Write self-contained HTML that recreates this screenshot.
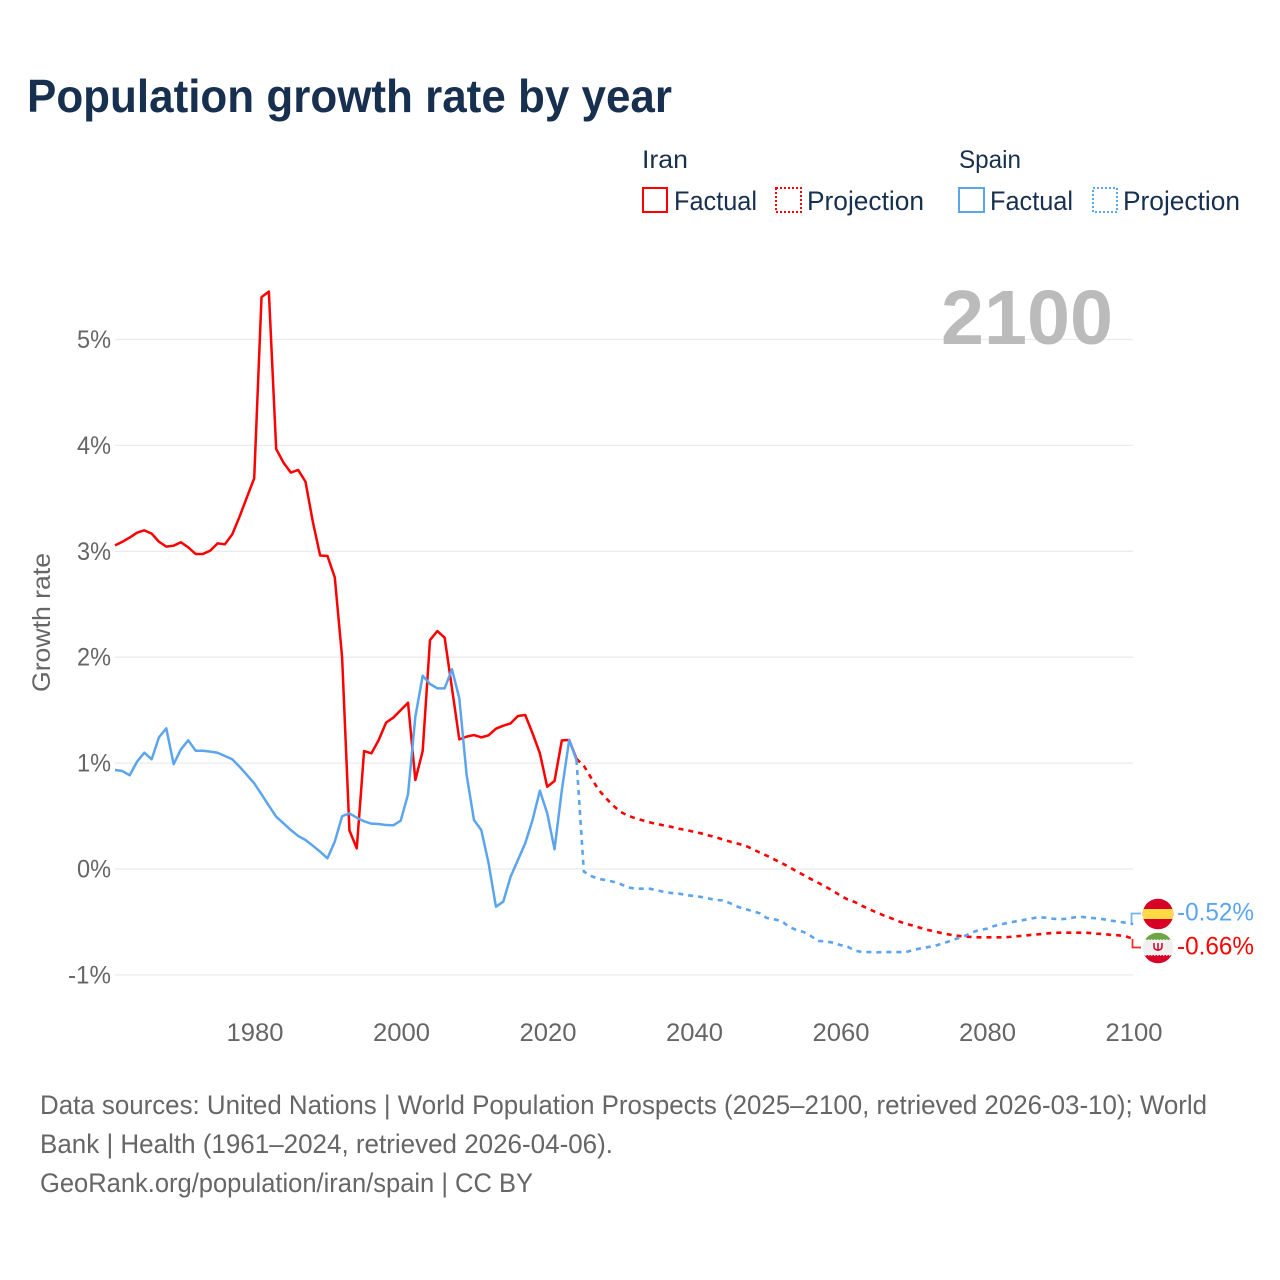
<!DOCTYPE html>
<html lang="en">
<head>
<meta charset="utf-8">
<title>Population growth rate by year</title>
<style>
  html, body { margin: 0; padding: 0; background: #fff; }
  svg { display: block; font-family: "Liberation Sans", sans-serif; }
</style>
</head>
<body>
<svg id="chart" xmlns="http://www.w3.org/2000/svg" width="1280" height="1280" viewBox="0 0 1280 1280">
  <rect x="0" y="0" width="1280" height="1280" fill="#ffffff"/>
  <text x="27" y="112" font-size="46" font-weight="700" fill="#18304f" textLength="645" lengthAdjust="spacingAndGlyphs">Population growth rate by year</text>

  <g>
    <text x="642" y="168" font-size="25" fill="#18304f" textLength="46" lengthAdjust="spacingAndGlyphs">Iran</text>
    <text x="959" y="168" font-size="25" fill="#18304f" textLength="62" lengthAdjust="spacingAndGlyphs">Spain</text>
    <rect x="643" y="188" width="24" height="24" fill="none" stroke="#ff0000" stroke-width="2"/>
    <text x="674" y="210" font-size="27" fill="#18304f" textLength="83" lengthAdjust="spacingAndGlyphs">Factual</text>
    <rect x="776" y="188" width="25" height="24" fill="none" stroke="#ff0000" stroke-width="2" stroke-dasharray="2 2"/>
    <text x="807" y="210" font-size="27" fill="#18304f" textLength="117" lengthAdjust="spacingAndGlyphs">Projection</text>
    <rect x="959" y="188" width="25" height="24" fill="none" stroke="#5ba5ef" stroke-width="2"/>
    <text x="990" y="210" font-size="27" fill="#18304f" textLength="83" lengthAdjust="spacingAndGlyphs">Factual</text>
    <rect x="1093" y="188" width="24" height="24" fill="none" stroke="#5ba5ef" stroke-width="2" stroke-dasharray="2 2"/>
    <text x="1123" y="210" font-size="27" fill="#18304f" textLength="117" lengthAdjust="spacingAndGlyphs">Projection</text>
  </g>

  <g id="grid"></g>
  <g id="y-axis"></g>
  <g id="x-axis"></g>
  <text transform="translate(50,692) rotate(-90)" x="0" y="0" font-size="25" fill="#666666" textLength="139" lengthAdjust="spacingAndGlyphs">Growth rate</text>
  <text x="941" y="344" font-size="77" font-weight="700" fill="#bbbbbb" textLength="172" lengthAdjust="spacingAndGlyphs">2100</text>

  <g id="series"></g>
  <g id="end-markers"></g>

  <g>
    <circle cx="1158" cy="914" r="15.3" fill="#d80027"/>
    <rect x="1143" y="909" width="30" height="10" fill="#ffda44"/>
  </g>
  <g>
    <clipPath id="iran-clip"><circle cx="1158" cy="948" r="15.3"/></clipPath>
    <g clip-path="url(#iran-clip)">
      <rect x="1142" y="932" width="32" height="32" fill="#f0f0f0"/>
      <rect x="1142" y="932" width="32" height="8" fill="#6da544"/>
      <rect x="1142" y="955" width="32" height="10" fill="#d80027"/>
      <line x1="1142" x2="1174" y1="940" y2="940" stroke="#f0f0f0" stroke-width="1.6" stroke-dasharray="1.500 1.500"/>
      <line x1="1142" x2="1174" y1="955" y2="955" stroke="#f0f0f0" stroke-width="1.6" stroke-dasharray="1.500 1.500"/>
    </g>
    <path d="M1154 943v3.500q0 3.500 4 3.500q4 0 4-3.500v-3.500M1158 943v8" fill="none" stroke="#d80027" stroke-width="1.500"/>
  </g>

  <g>
    <text x="40" y="1114" font-size="27" fill="#666666" textLength="1167" lengthAdjust="spacingAndGlyphs">Data sources: United Nations | World Population Prospects (2025–2100, retrieved 2026-03-10); World</text>
    <text x="40" y="1153" font-size="27" fill="#666666" textLength="573" lengthAdjust="spacingAndGlyphs">Bank | Health (1961–2024, retrieved 2026-04-06).</text>
    <text x="40" y="1192" font-size="27" fill="#666666" textLength="493" lengthAdjust="spacingAndGlyphs">GeoRank.org/population/iran/spain | CC BY</text>
  </g>
</svg>

<script>
const yTickValues = [5, 4, 3, 2, 1, 0, -1];
const xTickYears = [1980, 2000, 2020, 2040, 2060, 2080, 2100];
const factualStartYear = 1961;
const projectionStartYear = 2024;

const iranFactual = [
  3.056, 3.09, 3.13, 3.176, 3.198, 3.167, 3.09, 3.044, 3.053, 3.085,
  3.037, 2.975, 2.975, 3.006, 3.075, 3.066, 3.16, 3.327, 3.51, 3.689,
  5.40, 5.452, 3.966, 3.837, 3.743, 3.768, 3.658, 3.28, 2.96, 2.956,
  2.754, 2.0, 0.365, 0.195, 1.114, 1.092, 1.218, 1.382, 1.43, 1.50,
  1.57, 0.84, 1.114, 2.162, 2.247, 2.184, 1.706, 1.224, 1.25, 1.265,
  1.243, 1.262, 1.325, 1.353, 1.375, 1.445, 1.454, 1.281, 1.092, 0.777,
  0.831, 1.215, 1.218, 1.04
];
const spainFactual = [
  0.935, 0.925, 0.885, 1.013, 1.098, 1.036, 1.244, 1.328, 0.99, 1.13,
  1.215, 1.117, 1.117, 1.108, 1.098, 1.067, 1.036, 0.966, 0.888, 0.809,
  0.705, 0.598, 0.494, 0.431, 0.368, 0.312, 0.274, 0.22, 0.163, 0.101,
  0.258, 0.498, 0.526, 0.484, 0.45, 0.428, 0.425, 0.415, 0.413, 0.456,
  0.705, 1.438, 1.825, 1.747, 1.706, 1.706, 1.886, 1.612, 0.888, 0.463,
  0.368, 0.054, -0.356, -0.309, -0.073, 0.085, 0.243, 0.463, 0.739, 0.526,
  0.186, 0.746, 1.218, 1.029
];
const iranProjection = [
  1.04, 0.975, 0.86, 0.75, 0.67, 0.60, 0.54, 0.505, 0.48, 0.46,
  0.44, 0.425, 0.41, 0.397, 0.38, 0.368, 0.352, 0.337, 0.318, 0.30,
  0.278, 0.258, 0.24, 0.222, 0.19, 0.155, 0.125, 0.09, 0.056, 0.02,
  -0.02, -0.057, -0.095, -0.13, -0.168, -0.205, -0.25, -0.287, -0.312, -0.349,
  -0.38, -0.412, -0.44, -0.466, -0.494, -0.519, -0.535, -0.557, -0.576, -0.592,
  -0.607, -0.62, -0.63, -0.639, -0.642, -0.645, -0.645, -0.645, -0.645, -0.642,
  -0.636, -0.63, -0.623, -0.617, -0.611, -0.604, -0.601, -0.601, -0.601, -0.601,
  -0.604, -0.611, -0.614, -0.623, -0.626, -0.636, -0.66
];
const spainProjection = [
  1.029, -0.025, -0.066, -0.094, -0.104, -0.12, -0.142, -0.173, -0.186, -0.186,
  -0.186, -0.201, -0.217, -0.227, -0.233, -0.246, -0.255, -0.264, -0.277, -0.293,
  -0.296, -0.324, -0.356, -0.378, -0.397, -0.418, -0.463, -0.475, -0.491, -0.545,
  -0.576, -0.595, -0.633, -0.68, -0.683, -0.696, -0.718, -0.733, -0.771, -0.784,
  -0.784, -0.787, -0.784, -0.784, -0.784, -0.784, -0.765, -0.749, -0.737, -0.724,
  -0.702, -0.68, -0.655, -0.633, -0.598, -0.576, -0.564, -0.538, -0.522, -0.507,
  -0.494, -0.482, -0.469, -0.456, -0.46, -0.469, -0.475, -0.469, -0.456, -0.453,
  -0.46, -0.466, -0.475, -0.488, -0.498, -0.507, -0.52
];

const NS = 'http://www.w3.org/2000/svg';
const RED = '#ff0000';
const BLUE = '#5ba5ef';

function xScale(year) {
  return 1133.2 - (2100 - year) * 7.325;
}
function yScale(value) {
  return 869 - value * 105.9;
}
function linePath(values, startYear) {
  return values.map(function (v, i) {
    return (i === 0 ? 'M' : 'L') + xScale(startYear + i).toFixed(2) + ' ' + yScale(v).toFixed(2);
  }).join(' ');
}
function addSeries(parent, values, startYear, color, dash) {
  const el = document.createElementNS(NS, 'path');
  el.setAttribute('d', linePath(values, startYear));
  el.setAttribute('fill', 'none');
  el.setAttribute('stroke', color);
  el.setAttribute('stroke-width', dash ? '2.6' : '2.5');
  el.setAttribute('stroke-linejoin', 'round');
  if (dash) el.setAttribute('stroke-dasharray', dash);
  parent.appendChild(el);
  return el;
}

const gridGroup = document.getElementById('grid');
const yAxisGroup = document.getElementById('y-axis');
const xAxisGroup = document.getElementById('x-axis');
const seriesGroup = document.getElementById('series');
const endGroup = document.getElementById('end-markers');

yTickValues.forEach(function (v) {
  const gridLine = document.createElementNS(NS, 'line');
  
  
  gridLine.setAttribute('x1', '115');
  gridLine.setAttribute('x2', '1133');
  gridLine.setAttribute('y1', yScale(v));
  gridLine.setAttribute('y2', yScale(v));
  gridLine.setAttribute('stroke', '#ebebeb');
  gridLine.setAttribute('stroke-width', '1.3');
  gridGroup.appendChild(gridLine);

  const label = document.createElementNS(NS, 'text');
  
  
  label.setAttribute('x', '111');
  label.setAttribute('y', yScale(v) + 8.5);
  label.setAttribute('text-anchor', 'end');
  label.setAttribute('font-size', '25');
  label.setAttribute('fill', '#666666');
  label.setAttribute('textLength', v < 0 ? '43' : '34');
  label.setAttribute('lengthAdjust', 'spacingAndGlyphs');
  label.textContent = v + '%';
  yAxisGroup.appendChild(label);
});

xTickYears.forEach(function (year) {
  const label = document.createElementNS(NS, 'text');
  
  
  label.setAttribute('x', xScale(year) + 0.8);
  label.setAttribute('y', '1041');
  label.setAttribute('text-anchor', 'middle');
  label.setAttribute('font-size', '25');
  label.setAttribute('fill', '#666666');
  label.setAttribute('textLength', '57');
  label.setAttribute('lengthAdjust', 'spacingAndGlyphs');
  label.textContent = String(year);
  xAxisGroup.appendChild(label);
});

const iranFactualLine = addSeries(seriesGroup, iranFactual, factualStartYear, RED, null);



const iranProjectionLine = addSeries(seriesGroup, iranProjection, projectionStartYear, RED, '5 5');



const spainFactualLine = addSeries(seriesGroup, spainFactual, factualStartYear, BLUE, null);



const spainProjectionLine = addSeries(seriesGroup, spainProjection, projectionStartYear, BLUE, '5 5');



const spainLast = spainProjection[spainProjection.length - 1];
const iranLast = iranProjection[iranProjection.length - 1];

const spainConnector = document.createElementNS(NS, 'path');


spainConnector.setAttribute('d', 'M1131.500 ' + yScale(spainLast).toFixed(1) + ' V913.500 H1141');
spainConnector.setAttribute('fill', 'none');
spainConnector.setAttribute('stroke', BLUE);
spainConnector.setAttribute('stroke-width', '1.700');
spainConnector.setAttribute('opacity', '0.85');
endGroup.appendChild(spainConnector);

const iranConnector = document.createElementNS(NS, 'path');


iranConnector.setAttribute('d', 'M1132.500 ' + yScale(iranLast).toFixed(1) + ' V947.500 H1141');
iranConnector.setAttribute('fill', 'none');
iranConnector.setAttribute('stroke', RED);
iranConnector.setAttribute('stroke-width', '1.700');
iranConnector.setAttribute('opacity', '0.85');
endGroup.appendChild(iranConnector);

const spainEndLabel = document.createElementNS(NS, 'text');


spainEndLabel.setAttribute('x', '1177');
spainEndLabel.setAttribute('y', '920.5');
spainEndLabel.setAttribute('font-size', '25');
spainEndLabel.setAttribute('fill', BLUE);
spainEndLabel.setAttribute('textLength', '77');
spainEndLabel.setAttribute('lengthAdjust', 'spacingAndGlyphs');
spainEndLabel.textContent = spainLast.toFixed(2) + '%';
endGroup.appendChild(spainEndLabel);

const iranEndLabel = document.createElementNS(NS, 'text');


iranEndLabel.setAttribute('x', '1177');
iranEndLabel.setAttribute('y', '954.5');
iranEndLabel.setAttribute('font-size', '25');
iranEndLabel.setAttribute('fill', RED);
iranEndLabel.setAttribute('textLength', '77');
iranEndLabel.setAttribute('lengthAdjust', 'spacingAndGlyphs');
iranEndLabel.textContent = iranLast.toFixed(2) + '%';
endGroup.appendChild(iranEndLabel);
</script>
</body>
</html>
